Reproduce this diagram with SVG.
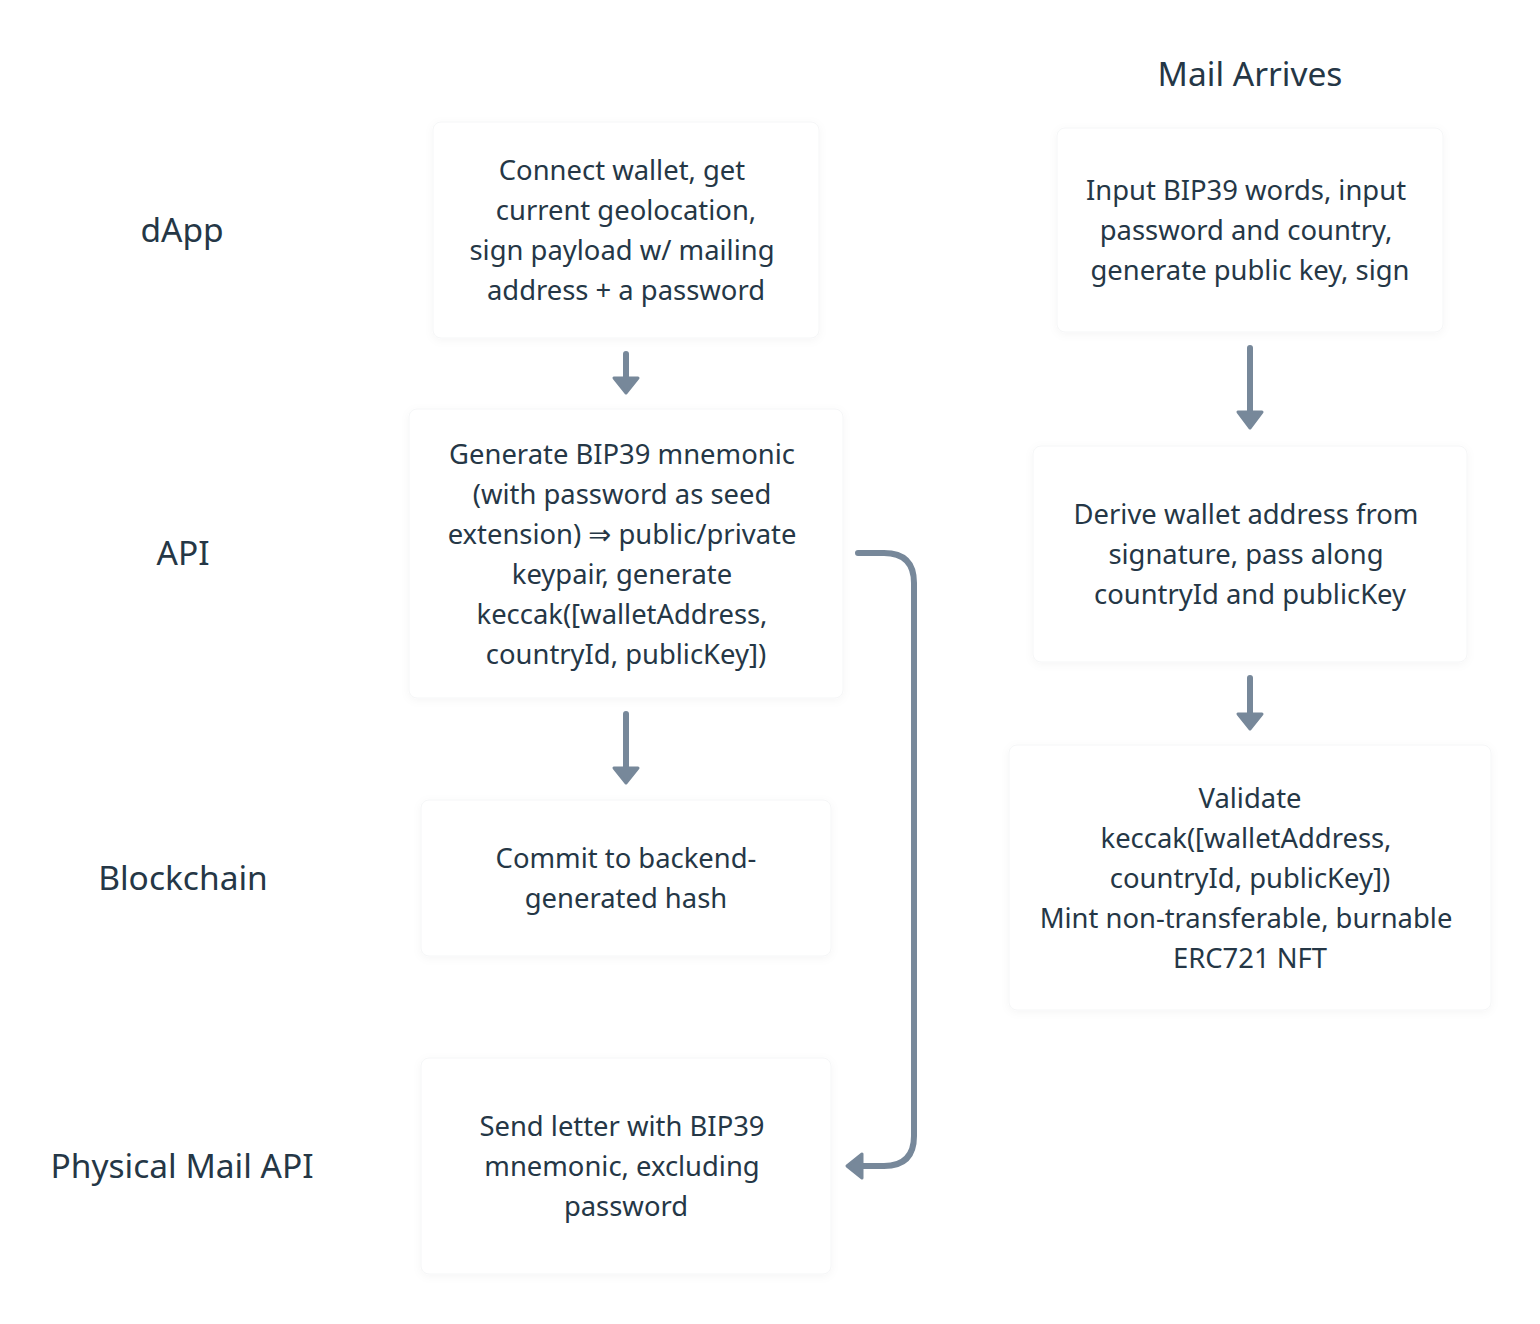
<svg xmlns="http://www.w3.org/2000/svg" width="1540" height="1324" viewBox="0 0 1540 1324">
<defs>
<style>
.box{fill:#ffffff;stroke:#f5f6f7;stroke-width:1;filter:url(#sh)}
.t{font-family:"Noto Sans","DejaVu Sans",sans-serif;font-size:27.4px;fill:#253746;text-anchor:middle}
.lbl{font-family:"Noto Sans","DejaVu Sans",sans-serif;font-size:33.5px;fill:#253746;text-anchor:middle}
.ln{fill:none;stroke:#77889a;stroke-width:6;stroke-linecap:round;stroke-linejoin:round}
.hd{fill:#77889a;stroke:#77889a;stroke-width:3;stroke-linejoin:round}
</style>
<filter id="sh" x="-10%" y="-10%" width="120%" height="120%">
<feDropShadow dx="0" dy="2" stdDeviation="4" flood-color="#000" flood-opacity="0.04"/>
</filter>
</defs>
<rect width="1540" height="1324" fill="#ffffff"/>
<g id="labels">
<text class="lbl" x="182" y="242">dApp</text>
<text class="lbl" x="183" y="565">API</text>
<text class="lbl" x="183" y="890">Blockchain</text>
<text class="lbl" x="182" y="1178">Physical Mail API</text>
<text class="lbl" x="1250" y="86">Mail Arrives</text>
</g>
<g id="n1">
<rect class="box" x="433" y="122" width="386" height="216" rx="8"/>
<text class="t"><tspan x="622" y="180">Connect wallet, get</tspan><tspan x="626" y="220">current geolocation,</tspan><tspan x="622" y="260">sign payload w/ mailing</tspan><tspan x="626" y="300">address + a password</tspan></text>
</g>
<g id="n2">
<rect class="box" x="409" y="409" width="434" height="289" rx="8"/>
<text class="t"><tspan x="622" y="464">Generate BIP39 mnemonic</tspan><tspan x="622" y="504">(with password as seed</tspan><tspan x="622" y="544">extension) ⇒ public/private</tspan><tspan x="622" y="584">keypair, generate</tspan><tspan x="622" y="624">keccak([walletAddress,</tspan><tspan x="626" y="664">countryId, publicKey])</tspan></text>
</g>
<g id="n3">
<rect class="box" x="421" y="800" width="410" height="156" rx="8"/>
<text class="t"><tspan x="626" y="868">Commit to backend-</tspan><tspan x="626" y="908">generated hash</tspan></text>
</g>
<g id="n4">
<rect class="box" x="421" y="1058" width="410" height="216" rx="8"/>
<text class="t"><tspan x="622" y="1136">Send letter with BIP39</tspan><tspan x="622" y="1176">mnemonic, excluding</tspan><tspan x="626" y="1216">password</tspan></text>
</g>
<g id="n5">
<rect class="box" x="1057" y="128" width="386" height="204" rx="8"/>
<text class="t"><tspan x="1246" y="200">Input BIP39 words, input</tspan><tspan x="1246" y="240">password and country,</tspan><tspan x="1250" y="280">generate public key, sign</tspan></text>
</g>
<g id="n6">
<rect class="box" x="1033" y="446" width="434" height="216" rx="8"/>
<text class="t"><tspan x="1246" y="524">Derive wallet address from</tspan><tspan x="1246" y="564">signature, pass along</tspan><tspan x="1250" y="604">countryId and publicKey</tspan></text>
</g>
<g id="n7">
<rect class="box" x="1009" y="745" width="482" height="265" rx="8"/>
<text class="t"><tspan x="1250" y="808">Validate</tspan><tspan x="1246" y="848">keccak([walletAddress,</tspan><tspan x="1250" y="888">countryId, publicKey])</tspan><tspan x="1246" y="928">Mint non-transferable, burnable</tspan><tspan x="1250" y="968">ERC721 NFT</tspan></text>
</g>
<g id="connectors">
<path class="ln" d="M626 354 V378"/>
<path class="hd" d="M614 378 L638 378 L626 393 Z"/>
<path class="ln" d="M626 714 V768"/>
<path class="hd" d="M614 768 L638 768 L626 783 Z"/>
<path class="ln" d="M1250 348 V412"/>
<path class="hd" d="M1238 412 L1262 412 L1250 428 Z"/>
<path class="ln" d="M1250 678 V714"/>
<path class="hd" d="M1238 714 L1262 714 L1250 729 Z"/>
<path class="ln" d="M858 553 H884 Q914 553 914 583 V1136 Q914 1166 884 1166 H862"/>
<path class="hd" d="M862 1154 L862 1178 L847 1166 Z"/>
</g>
</svg>
